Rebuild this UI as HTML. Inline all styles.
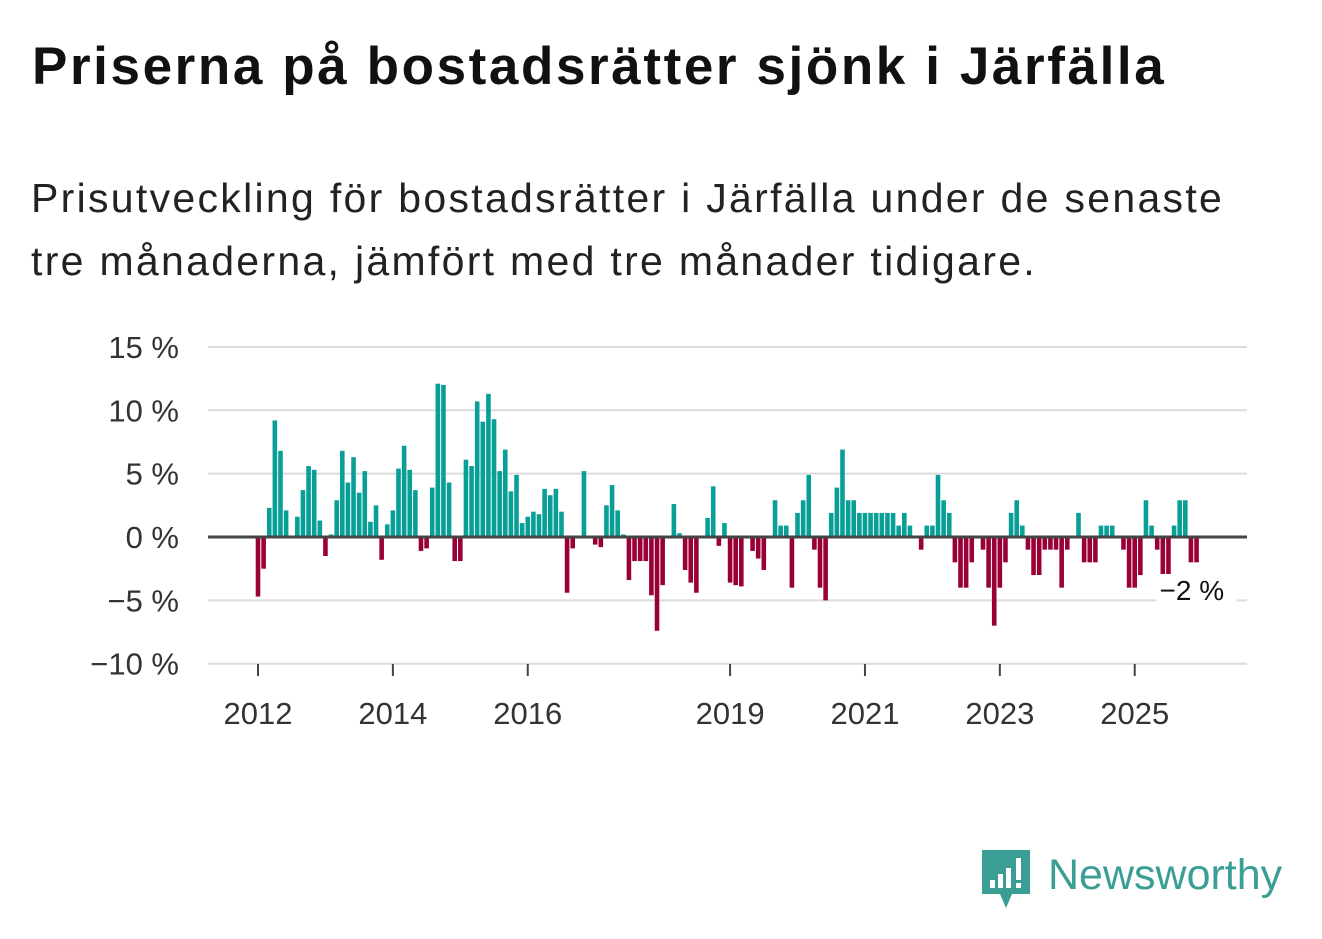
<!DOCTYPE html>
<html><head><meta charset="utf-8"><style>
body{margin:0;width:1322px;height:939px;background:#fff;font-family:"Liberation Sans",sans-serif;color:#111;overflow:hidden;position:relative}
#title{position:absolute;left:32px;top:36px;font-size:53px;font-weight:bold;margin:0;letter-spacing:2.6px;white-space:nowrap}
#sub{position:absolute;left:31px;top:167px;font-size:41px;line-height:63px;color:#222;width:1255px;letter-spacing:2.3px}
svg{position:absolute;left:0;top:0}
</style></head><body>
<h1 id="title">Priserna på bostadsrätter sjönk i Järfälla</h1>
<div id="sub">Prisutveckling för bostadsrätter i Järfälla under de senaste<br>tre månaderna, jämfört med tre månader tidigare.</div>
<svg id="chart" width="1322" height="939"></svg>
<script>
const values=[-4.7,-2.5,2.3,9.2,6.8,2.1,0,1.6,3.7,5.6,
5.3,1.3,-1.5,0.2,2.9,6.8,4.3,6.3,3.5,5.2,
1.2,2.5,-1.8,1.0,2.1,5.4,7.2,5.3,3.7,-1.1,
-0.9,3.9,12.1,12.0,4.3,-1.9,-1.9,6.1,5.6,10.7,
9.1,11.3,9.3,5.2,6.9,3.6,4.9,1.1,1.6,2.0,
1.8,3.8,3.3,3.8,
2.0,-4.4,-0.9,0,5.2,0,-0.6,-0.8,2.5,4.1,2.1,0.2,-3.4,-1.9,-1.9,-1.9,-4.6,-7.4,-3.8,0,2.6,0.3,-2.6,-3.6,-4.4,0,1.5,4.0,-0.7,1.1,-3.6,-3.8,-3.9,0,-1.1,-1.7,-2.6,0,2.9,0.9,0.9,-4.0,1.9,2.9,4.9,-1.0,-4.0,-5.0,1.9,3.9,6.9,2.9,2.9,1.9,1.9,1.9,1.9,
1.9,1.9,1.9,0.9,1.9,0.9,0,-1.0,0.9,0.9,4.9,2.9,1.9,-2.0,-4.0,-4.0,-2.0,0,-1.0,-4.0,-7.0,-4.0,-2.0,1.9,2.9,0.9,-1.0,-3.0,-3.0,-1.0,-1.0,-1.0,-4.0,-1.0,0,1.9,-2.0,-2.0,-2.0,0.9,0.9,0.9,0,-1.0,-4.0,-4.0,-3.0,2.9,0.9,-1.0,-5.0,-3.0,0.9,2.9,2.9,-2.0,-2.0];
const startYear=2012;
const yTicks=[15,10,5,0,-5,-10];
const yTickLabels=["15 %","10 %","5 %","0 %","−5 %","−10 %"];
const xTickYears=[2012,2014,2016,2019,2021,2023,2025];
const lastLabel="−2 %";

const NS="http://www.w3.org/2000/svg";
const svg=document.getElementById('chart');
const x0=258,step=5.62,yZero=537,pxPer=12.67,left=208,right=1247;
const xs=i=>x0+i*step;
const ys=v=>yZero-v*pxPer;
function mk(tag,attrs){const e=document.createElementNS(NS,tag);for(const k in attrs)e.setAttribute(k,attrs[k]);svg.appendChild(e);return e;}
yTicks.forEach((t,i)=>{
  if(t!==0){const g=mk('line',{x1:left,x2:right,y1:ys(t),y2:ys(t),stroke:'#dcdcdc','stroke-width':2});
  
  }
  const tx=mk('text',{x:179,y:ys(t)+11,'text-anchor':'end','font-size':31,fill:'#333','font-family':'Liberation Sans, sans-serif'});
  tx.textContent=yTickLabels[i];
  
  
});
values.forEach((v,i)=>{
  if(v===0)return;
  const y=Math.min(ys(v),yZero),h=Math.abs(ys(v)-yZero);
  const r=mk('rect',{x:xs(i)-2.3,y:y,width:4.6,height:h,fill:v>0?'#08a096':'#990038'});
  
  
});
const z=mk('line',{x1:left,x2:right,y1:yZero,y2:yZero,stroke:'#444','stroke-width':3});


xTickYears.forEach(yr=>{
  const x=xs((yr-startYear)*12);
  const t=mk('line',{x1:x,x2:x,y1:664,y2:676,stroke:'#444','stroke-width':2});
  
  
  const tx=mk('text',{x:x,y:724,'text-anchor':'middle','font-size':31,fill:'#333','font-family':'Liberation Sans, sans-serif'});
  tx.textContent=yr;
  
  
});
const li=values.length-1;
const bg=mk('rect',{x:xs(li)-40,y:574,width:80,height:31,fill:'#fff'});


const lt=mk('text',{x:xs(li)-37,y:600,'font-size':28,fill:'#111','font-family':'Liberation Sans, sans-serif'});
lt.textContent=lastLabel;


</script>
<div style="position:absolute;left:982px;top:850px;display:flex;align-items:center">
<svg width="50" height="60" style="position:static"><path d="M0 0H48V44H30L24 58L18 44H0Z" fill="#3a9e95"/><rect x="8" y="30" width="5" height="8" fill="#fff"/><rect x="16" y="24" width="5" height="14" fill="#fff"/><rect x="24" y="18" width="5" height="20" fill="#fff"/><rect x="34" y="8" width="5" height="22" fill="#fff"/><rect x="34" y="33" width="5" height="5" fill="#fff"/></svg>
<span style="font-size:43px;color:#3a9e95;margin-left:16px;margin-top:-10px;font-weight:500">Newsworthy</span>
</div>
</body></html>
